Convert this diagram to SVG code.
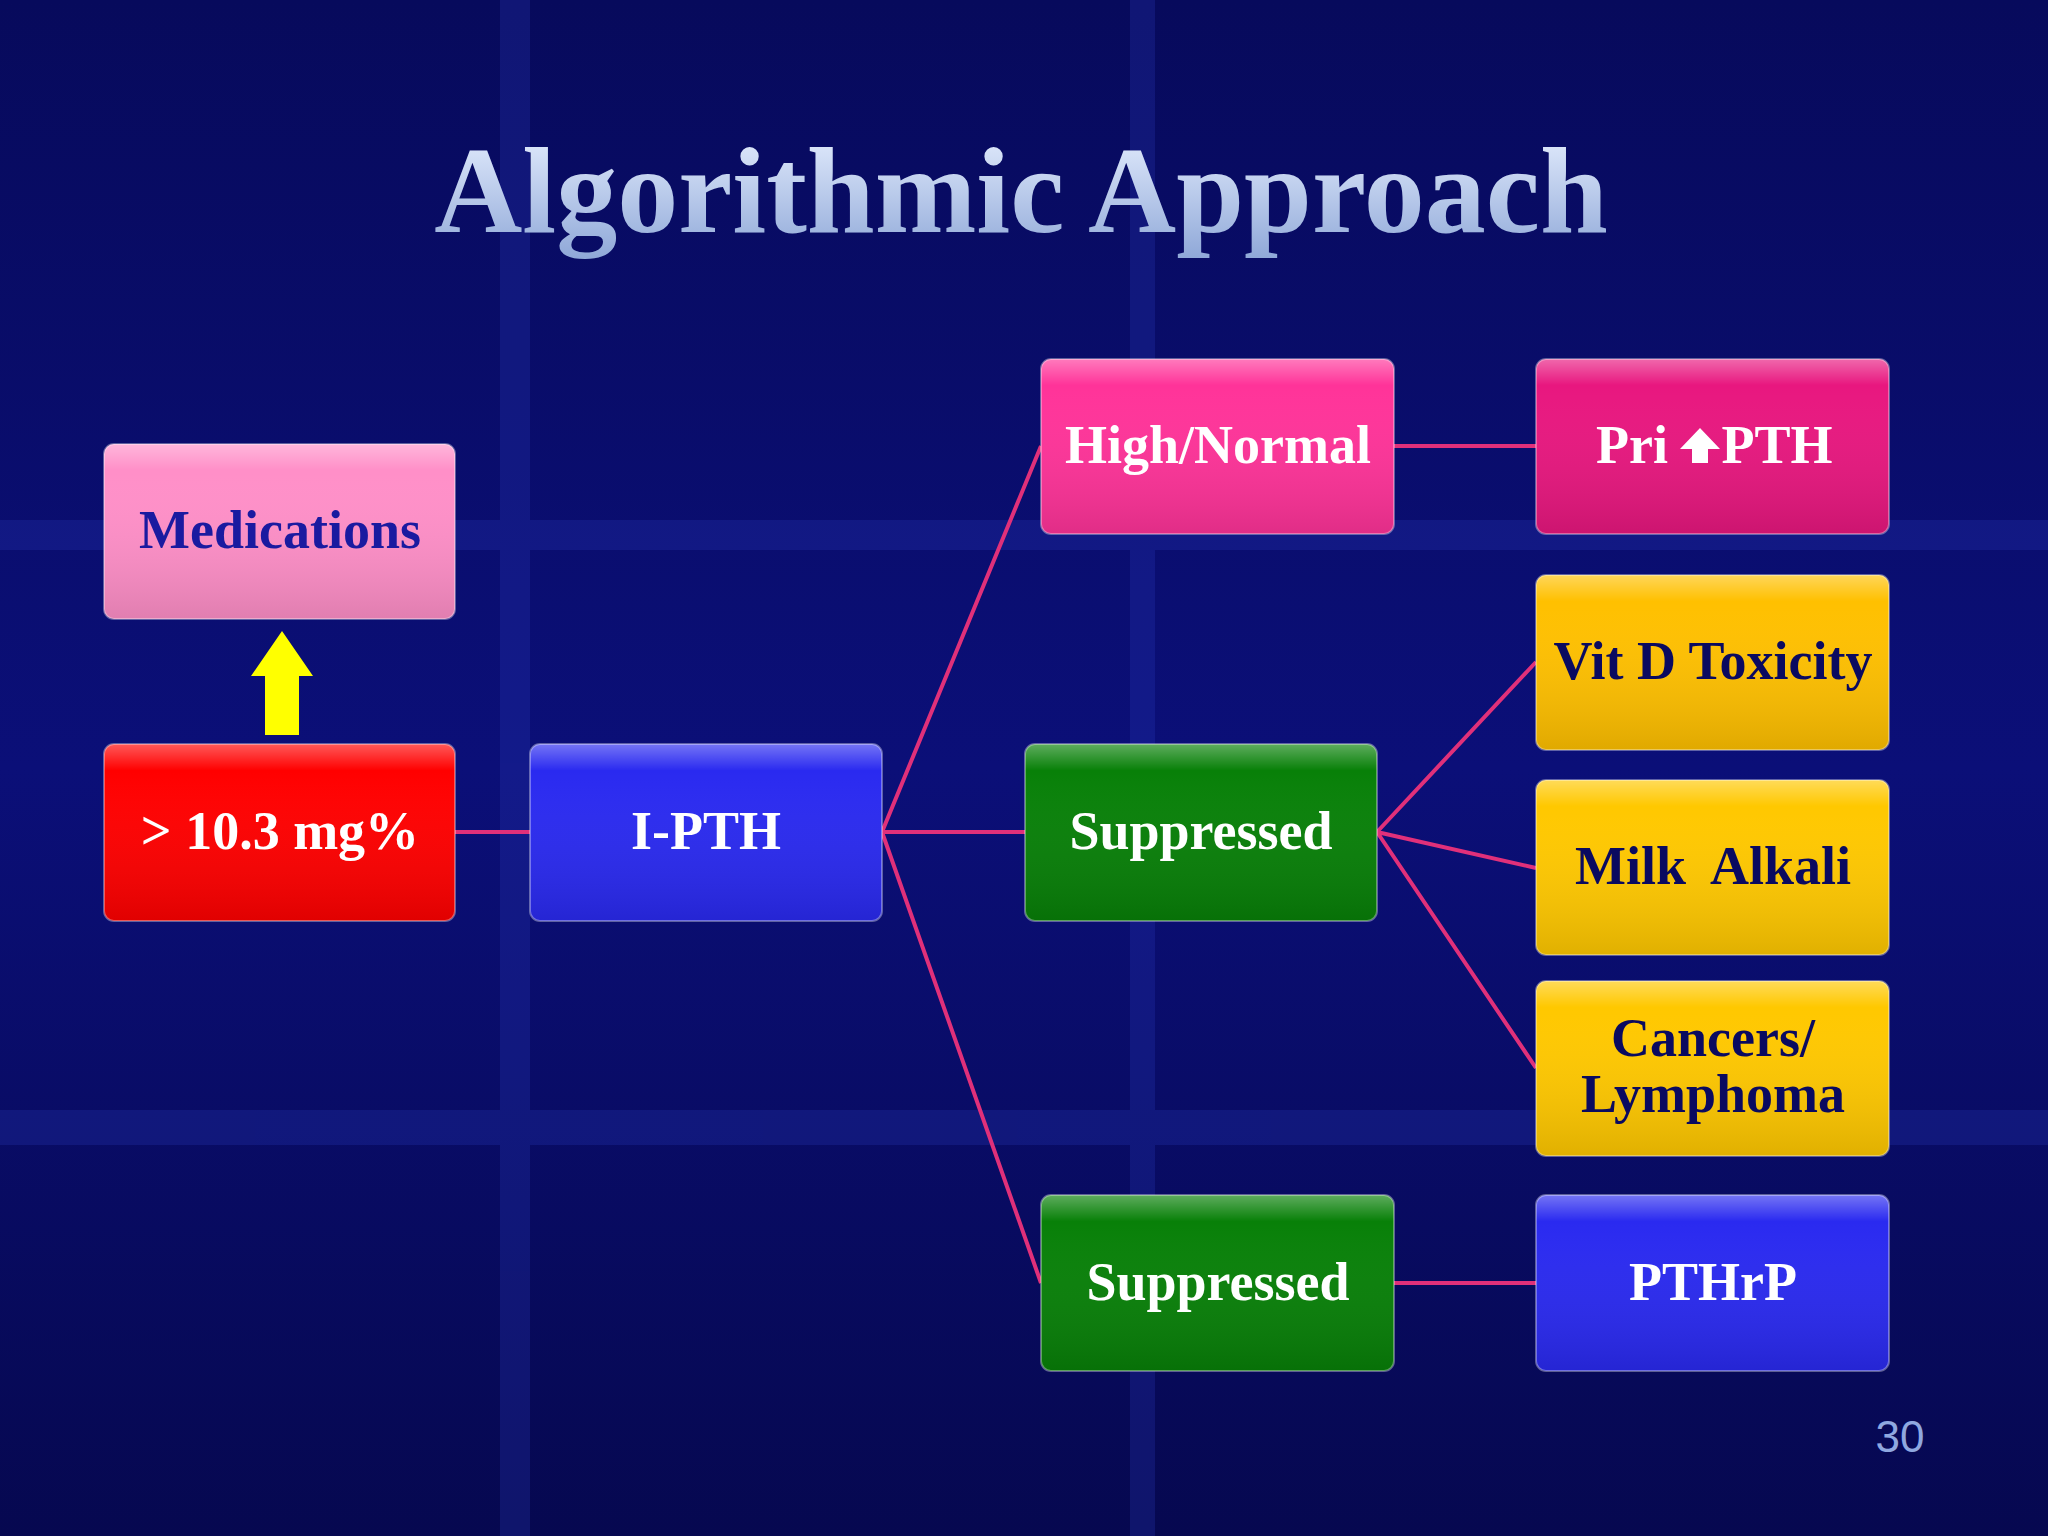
<svg xmlns="http://www.w3.org/2000/svg" width="2048" height="1536" viewBox="0 0 2048 1536">
<defs>
<linearGradient id="bg" x1="0" y1="0" x2="0" y2="1"><stop offset="0" stop-color="#070a5c"/><stop offset="0.5" stop-color="#0b0f78"/><stop offset="1" stop-color="#060850"/></linearGradient>
<linearGradient id="gloss" x1="0" y1="0" x2="0" y2="1"><stop offset="0" stop-color="#fff" stop-opacity="0.35"/><stop offset="0.15" stop-color="#fff" stop-opacity="0"/><stop offset="1" stop-color="#000" stop-opacity="0.12"/></linearGradient>
<linearGradient id="tg" x1="0" y1="0" x2="0" y2="1"><stop offset="0" stop-color="#e8f0ff"/><stop offset="1" stop-color="#8fa8d8"/></linearGradient>
</defs>
<style>
.b{stroke:#ffffff;stroke-opacity:0.35;stroke-width:2}
.t{font-family:"Liberation Serif",serif;font-weight:bold;font-size:54px;text-anchor:middle}
.w{fill:#ffffff}.n{fill:#0a0a60}.m{fill:#1a1aa0}
.c{stroke:#e0307a;stroke-width:4;fill:none}
</style>
<rect width="2048" height="1536" fill="url(#bg)"/>
<g opacity="0.25" fill="#2a3cc0">
<rect x="500" y="0" width="30" height="1536"/><rect x="1130" y="0" width="25" height="1536"/><rect x="0" y="520" width="2048" height="30"/><rect x="0" y="1110" width="2048" height="35"/>
</g>
<text x="1021" y="232" font-family="Liberation Serif,serif" font-weight="bold" font-size="122" text-anchor="middle" fill="url(#tg)">Algorithmic Approach</text>
<g id="connectors">
<path class="c" d="M455 832H530"/>
<path class="c" d="M882 832L1041 446M882 832H1025M882 832L1041 1283"/>
<path class="c" d="M1394 446H1536M1394 1283H1536"/>
<path class="c" d="M1377 832L1536 662M1377 832L1536 868M1377 832L1536 1068"/>
</g>
<g id="arrow"><polygon points="265,735 299,735 299,676 313,676 282,631 251,676 265,676" fill="#ffff00"/></g>
<g id="medications"><rect x="104" y="444" width="351" height="175" rx="10" fill="#ff8fc8"/><rect class="b" x="104" y="444" width="351" height="175" rx="10" fill="url(#gloss)"/><text class="t m" x="280" y="548">Medications</text></g>
<g id="calcium"><rect x="104" y="744" width="351" height="177" rx="10" fill="#ff0000"/><rect class="b" x="104" y="744" width="351" height="177" rx="10" fill="url(#gloss)"/><text class="t w" x="280" y="849">&gt; 10.3 mg%</text></g>
<g id="ipth"><rect x="530" y="744" width="352" height="177" rx="10" fill="#2a2af0"/><rect class="b" x="530" y="744" width="352" height="177" rx="10" fill="url(#gloss)"/><text class="t w" x="706" y="849">I-PTH</text></g>
<g id="highnormal"><rect x="1041" y="359" width="353" height="175" rx="10" fill="#ff3399"/><rect class="b" x="1041" y="359" width="353" height="175" rx="10" fill="url(#gloss)"/><text class="t w" x="1218" y="463">High/Normal</text></g>
<g id="suppressed1"><rect x="1025" y="744" width="352" height="177" rx="10" fill="#088008"/><rect class="b" x="1025" y="744" width="352" height="177" rx="10" fill="url(#gloss)"/><text class="t w" x="1201" y="849">Suppressed</text></g>
<g id="suppressed2"><rect x="1041" y="1195" width="353" height="176" rx="10" fill="#088008"/><rect class="b" x="1041" y="1195" width="353" height="176" rx="10" fill="url(#gloss)"/><text class="t w" x="1218" y="1300">Suppressed</text></g>
<g id="pripth"><rect x="1536" y="359" width="353" height="175" rx="10" fill="#e8177f"/><rect class="b" x="1536" y="359" width="353" height="175" rx="10" fill="url(#gloss)"/><text class="t w" x="1632" y="463">Pri</text><polygon points="1692,463 1708,463 1708,449 1720,449 1700,428 1680,449 1692,449" fill="#fff"/><text class="t w" x="1777" y="463">PTH</text></g>
<g id="vitd"><rect x="1536" y="575" width="353" height="175" rx="10" fill="#ffc000"/><rect class="b" x="1536" y="575" width="353" height="175" rx="10" fill="url(#gloss)"/><text class="t n" x="1713" y="679">Vit D Toxicity</text></g>
<g id="milk"><rect x="1536" y="780" width="353" height="175" rx="10" fill="#ffc800"/><rect class="b" x="1536" y="780" width="353" height="175" rx="10" fill="url(#gloss)"/><text class="t n" x="1713" y="884" xml:space="preserve">Milk  Alkali</text></g>
<g id="cancers"><rect x="1536" y="981" width="353" height="175" rx="10" fill="#ffc800"/><rect class="b" x="1536" y="981" width="353" height="175" rx="10" fill="url(#gloss)"/><text class="t n" x="1713" y="1056">Cancers/</text><text class="t n" x="1713" y="1112">Lymphoma</text></g>
<g id="pthrp"><rect x="1536" y="1195" width="353" height="176" rx="10" fill="#2a2af0"/><rect class="b" x="1536" y="1195" width="353" height="176" rx="10" fill="url(#gloss)"/><text class="t w" x="1713" y="1300">PTHrP</text></g>
<text x="1900" y="1452" font-family="Liberation Sans,sans-serif" font-size="44" text-anchor="middle" fill="#8fa8e0">30</text>
</svg>
